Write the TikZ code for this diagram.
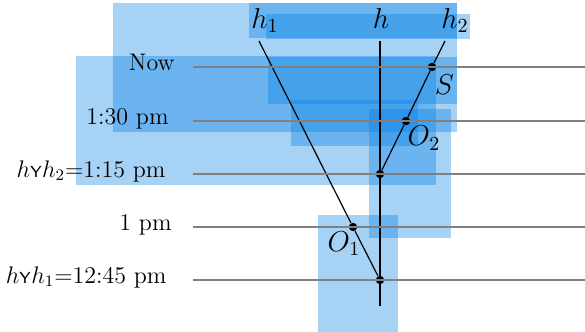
\documentclass[tikz,border=0pt]{standalone}
\usepackage{amssymb}
\begin{document}
\begin{tikzpicture}[x=0.5pt,y=-0.5pt,
  hl/.style={fill={rgb,255:red,0;green,125;blue,228},fill opacity=0.35,draw=none},
  timeline/.style={draw=gray,line width=0.7pt},
  world/.style={draw=black,line width=0.6pt},
  dot/.style={circle,fill=black,inner sep=0pt,minimum size=4.2pt},
  tlabel/.style={anchor=base east,font=\fontsize{12}{14}\selectfont,inner sep=0pt},
  mlabel/.style={font=\fontsize{14}{16}\selectfont,inner sep=0pt}]
\useasboundingbox (0,0) rectangle (585,332);
% highlight boxes
\fill[hl] (113,3) rectangle (457,132);
\fill[hl] (249,3) rectangle (457,38);
\fill[hl] (266,14) rectangle (470,39);
\fill[hl] (268,57) rectangle (457,104);
\fill[hl] (76,56) rectangle (436,185);
\fill[hl] (291,100) rectangle (418,146);
\fill[hl] (369,109) rectangle (451,238);
\fill[hl] (318,215) rectangle (398,332);
% coordinates
\coordinate (t1) at (259,41);
\coordinate (t) at (380,41);
\coordinate (t2) at (445,41);
\coordinate (bot) at (380,306);
\foreach \n/\y in {a/67,b/121,c/174,d/227,e/280}{
  \coordinate (\n L) at (193,\y);
  \coordinate (\n R) at (585,\y);
}
% world lines
\node[dot] (S) at (432,67) {};
\node[dot] (O2) at (406,121) {};
\node[dot] (J2) at (380,174) {};
\node[dot] (O1) at (353,227) {};
\node[dot] (J1) at (380,280) {};
\draw[world] (t) -- (bot);
\draw[world] (t1) -- (O1) -- (J1);
\draw[world] (t2) -- (S) -- (O2) -- (J2);
% time lines
\foreach \n in {a,b,c,d,e}{ \draw[timeline] (\n L) -- (\n R); }
% labels
\node[tlabel] (lnow) at (175,70.5) {Now};
\node[tlabel] (l130) at (169,124) {1:30 pm};
\node[tlabel] (l115) at (166,177) {$h\mathsf{\scriptstyle Y}h_2$=1:15 pm};
\node[tlabel] (l1) at (172,230) {1 pm};
\node[tlabel] (l1245) at (167,283) {$h\mathsf{\scriptstyle Y}h_1$=12:45 pm};
\node[mlabel,anchor=base] (lh1) at (265,28) {$h_1$};
\node[mlabel,anchor=base] (lh) at (381,28) {$h$};
\node[mlabel,anchor=base] (lh2) at (455,28) {$h_2$};
\node[mlabel] (lS) at (444.5,85) {$S$};
\node[mlabel] (lO2) at (424,138) {$O_2$};
\node[mlabel] (lO1) at (344,244) {$O_1$};
\end{tikzpicture}
\end{document}
